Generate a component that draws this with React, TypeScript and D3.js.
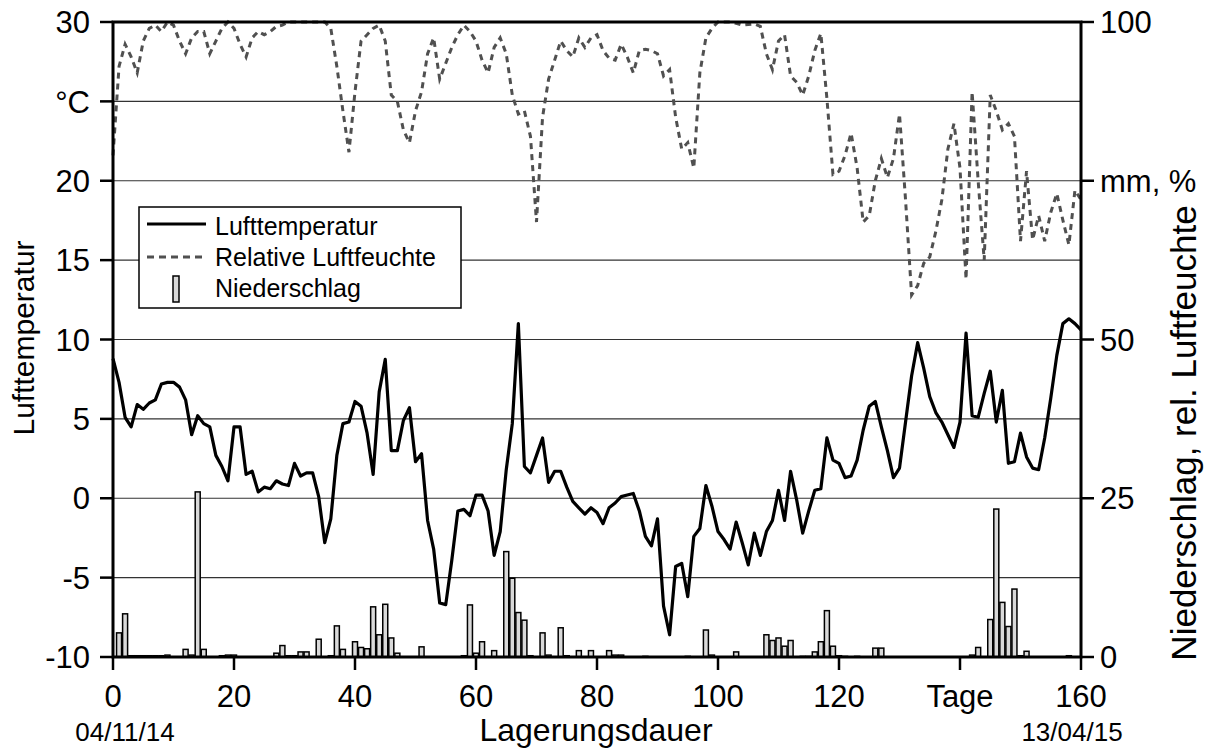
import React from "react";
import * as d3 from "d3";

const days: number[] = d3.range(0, 161);

const temperature: number[] = [
  8.8, 7.3, 5.1, 4.5, 5.9, 5.6, 6.0, 6.2, 7.2, 7.3,
  7.3, 7.0, 6.2, 4.0, 5.2, 4.7, 4.5, 2.7, 2.0, 1.1,
  4.5, 4.5, 1.5, 1.7, 0.4, 0.7, 0.6, 1.1, 0.9, 0.8,
  2.2, 1.4, 1.6, 1.6, 0.1, -2.8, -1.3, 2.7, 4.7, 4.8,
  6.1, 5.8, 4.1, 1.5, 6.7, 8.75, 3.0, 3.0, 4.9, 5.7,
  2.3, 2.8, -1.4, -3.2, -6.6, -6.7, -3.9, -0.8, -0.7, -1.1,
  0.2, 0.2, -0.8, -3.6, -2.1, 1.8, 4.7, 11.0, 2.0, 1.6,
  2.7, 3.8, 1.0, 1.7, 1.7, 0.7, -0.2, -0.6, -1.0, -0.6,
  -0.9, -1.6, -0.6, -0.3, 0.1, 0.2, 0.3, -0.8, -2.4, -3.0,
  -1.3, -6.8, -8.6, -4.3, -4.1, -6.2, -2.4, -1.9, 0.8, -0.5,
  -2.1, -2.6, -3.2, -1.5, -2.8, -4.2, -2.2, -3.6, -2.1, -1.4,
  0.5, -1.4, 1.7, -0.1, -2.2, -0.8, 0.5, 0.6, 3.8, 2.4,
  2.2, 1.3, 1.4, 2.4, 4.3, 5.8, 6.1, 4.5, 3.0, 1.3,
  1.9, 4.8, 7.7, 9.8, 8.2, 6.4, 5.4, 4.8, 4.0, 3.2,
  4.8, 10.4, 5.2, 5.1, 6.6, 8.0, 4.8, 6.8, 2.2, 2.3,
  4.1, 2.6, 1.9, 1.8, 3.8, 6.3, 9.0, 11.0, 11.3, 11.0,
  10.6,
];

const humidity: number[] = [
  79, 93, 96.5, 94.5, 92, 97, 99, 99.5, 98.5, 100,
  99.5, 97, 95, 97.5, 98.5, 98.5, 95, 97, 99, 100,
  99, 96.5, 94.5, 97.5, 98.5, 98, 98.5, 99.3, 99.5, 100,
  100, 100, 100, 100, 100, 100, 99, 93, 86, 79.5,
  89, 97, 98, 99, 99.5, 97, 88.5, 87.5, 83, 81,
  86, 89, 95, 97.5, 91, 93.5, 96, 98, 99.5, 98.5,
  97, 94, 92, 96, 97.5, 95, 88.5, 85.5, 86, 82,
  68.5, 85, 91, 94, 97, 95.5, 94.5, 97.5, 96, 97.5,
  98, 95.5, 94.3, 94, 96.5, 94.5, 92, 95.5, 95.7, 95.5,
  95, 91.5, 92.5, 85, 80, 81, 77, 92, 97.5, 99,
  100, 100, 100, 99.8, 99.5, 99.6, 99.7, 99.3, 95, 92.5,
  97, 98, 91.5, 90.5, 88.5, 91.5, 95.5, 98.2, 88, 76,
  76.5, 79, 82.5, 77, 68.5, 69.5, 75, 78.5, 75.5, 78.5,
  85.5, 72, 57, 58.5, 62, 63, 67, 72, 80, 84,
  77, 59.5, 89, 75, 62.5, 88.5, 86, 83, 84, 82,
  65.5, 76.5, 65.7, 69.5, 65.5, 70, 73, 68.8, 64.9, 73.5,
  72,
];

const precipitation: number[] = [
  0, 3.8, 6.8, 0.2, 0.2, 0.2, 0.2, 0.2, 0.2, 0.3,
  0, 0, 1.2, 0.3, 26.0, 1.2, 0, 0, 0.2, 0.3,
  0.3, 0, 0, 0, 0, 0, 0, 0.6, 1.8, 0.2,
  0.2, 0.8, 0.8, 0, 2.8, 0, 0.2, 4.9, 1.2, 0,
  2.4, 1.5, 1.3, 7.9, 3.5, 8.3, 3.0, 0.6, 0, 0,
  0, 1.6, 0, 0, 0, 0, 0, 0, 0.2, 8.2,
  0.6, 2.4, 0, 1.0, 0, 16.6, 12.4, 7.0, 5.8, 0.2,
  0, 3.8, 0.3, 0, 4.6, 0.2, 0, 1.0, 0, 1.0,
  0, 0, 1.0, 0.3, 0.3, 0, 0, 0, 0.1, 0,
  0, 0, 0, 0, 0, 0.1, 0, 0, 4.25, 0.3,
  0, 0, 0, 0.8, 0, 0, 0, 0, 3.5, 2.6,
  3.0, 1.7, 2.6, 0, 0.1, 0.1, 0.8, 2.4, 7.3, 1.7,
  0.2, 0.1, 0, 0.1, 0, 0, 1.4, 1.4, 0, 0,
  0, 0, 0, 0, 0, 0, 0, 0, 0, 0,
  0, 0, 0.3, 1.5, 0, 5.9, 23.3, 8.6, 4.8, 10.7,
  0.2, 0.9, 0, 0, 0, 0, 0, 0, 0.2, 0,
  0,
];

const leftTicks: number[] = [-10, -5, 0, 5, 10, 15, 20, 25, 30];
const leftTickLabels: string[] = ["-10", "-5", "0", "5", "10", "15", "20", "°C", "30"];
const rightTicks: number[] = [0, 25, 50, 75, 100];
const rightTickLabels: string[] = ["0", "25", "50", "mm, %", "100"];
const bottomTicks: number[] = [0, 20, 40, 60, 80, 100, 120, 140, 160];
const bottomTickLabels: string[] = ["0", "20", "40", "60", "80", "100", "120", "Tage", "160"];
const gridValues: number[] = [-5, 0, 5, 10, 15, 20, 25];

const legendLabels: string[] = ["Lufttemperatur", "Relative Luftfeuchte", "Niederschlag"];

const FONT = "'Liberation Sans', Arial, Helvetica, sans-serif";

export default function App() {
  const W = 1211;
  const H = 751;
  const L = 113, R = 1081, T = 22, B = 657;

  const x = d3.scaleLinear().domain([0, 160]).range([L, R]);
  const yT = d3.scaleLinear().domain([-10, 30]).range([B, T]);
  const yR = d3.scaleLinear().domain([0, 100]).range([B, T]);

  const tempLine = d3
    .line<number>()
    .x((_, i) => x(days[i]))
    .y((d) => yT(d))
    .curve(d3.curveLinear);
  const humLine = d3
    .line<number>()
    .x((_, i) => x(days[i]))
    .y((d) => yR(d))
    .curve(d3.curveLinear);

  const barW = 5;

  return (
    <svg
      width={W}
      height={H}
      viewBox={`0 0 ${W} ${H}`}
      style={{ position: "absolute", left: 0, top: 0, display: "block", background: "#fff" }}
      fontFamily={FONT}
    >
      <rect x={0} y={0} width={W} height={H} fill="#fff" />
      {gridValues.map((v) => (
        <line key={"g" + v} x1={L} x2={R} y1={yT(v)} y2={yT(v)} stroke="#333" strokeWidth={1.2} />
      ))}

      {precipitation.map((p, i) =>
        p > 0 ? (
          <rect
            key={"b" + i}
            x={x(days[i]) - barW / 2}
            y={yR(p)}
            width={barW}
            height={yR(0) - yR(p)}
            fill="#d9d9d9"
            stroke="#000"
            strokeWidth={1.5}
          />
        ) : null
      )}

      <path d={humLine(humidity) || ""} fill="none" stroke="#505050" strokeWidth={3} strokeDasharray="6 5" />
      <path d={tempLine(temperature) || ""} fill="none" stroke="#000" strokeWidth={3.2} strokeLinejoin="round" />

      <rect x={L} y={T} width={R - L} height={B - T} fill="none" stroke="#000" strokeWidth={3} />

      {leftTicks.map((v, i) => (
        <g key={"lt" + v}>
          <line x1={100} x2={L} y1={yT(v)} y2={yT(v)} stroke="#000" strokeWidth={2.5} />
          <text x={90} y={yT(v)} dy="0.36em" textAnchor="end" fontSize={31} fill="#000">
            {leftTickLabels[i]}
          </text>
        </g>
      ))}
      {rightTicks.map((v, i) => (
        <g key={"rt" + v}>
          <line x1={R} x2={R + 13} y1={yR(v)} y2={yR(v)} stroke="#000" strokeWidth={2.5} />
          <text x={1100} y={yR(v)} dy="0.36em" textAnchor="start" fontSize={31} fill="#000">
            {rightTickLabels[i]}
          </text>
        </g>
      ))}
      {bottomTicks.map((v, i) => (
        <g key={"bt" + v}>
          <line x1={x(v)} x2={x(v)} y1={B} y2={B + 13} stroke="#000" strokeWidth={2.5} />
          <text x={x(v)} y={707} textAnchor="middle" fontSize={31} fill="#000">
            {bottomTickLabels[i]}
          </text>
        </g>
      ))}

      <text transform="translate(34,338) rotate(-90)" textAnchor="middle" fontSize={30} fill="#000">
        Lufttemperatur
      </text>
      <text transform="translate(1196,433) rotate(-90)" textAnchor="middle" fontSize={35} fill="#000">
        Niederschlag, rel. Luftfeuchte
      </text>
      <text x={596} y={741} textAnchor="middle" fontSize={32} fill="#000">
        Lagerungsdauer
      </text>
      <text x={125} y={741} textAnchor="middle" fontSize={26} fill="#000">
        04/11/14
      </text>
      <text x={1072} y={741} textAnchor="middle" fontSize={26} fill="#000">
        13/04/15
      </text>

      <g>
        <rect x={139} y={207} width={322} height={101} fill="#fff" stroke="#000" strokeWidth={1.5} />
        <line x1={147} x2={206} y1={224} y2={224} stroke="#000" strokeWidth={3} />
        <line x1={147} x2={206} y1={257} y2={257} stroke="#505050" strokeWidth={3} strokeDasharray="7 5" />
        <rect x={173} y={276} width={6} height={26} fill="#d9d9d9" stroke="#000" strokeWidth={1.5} />
        {legendLabels.map((t, i) => (
          <text key={t} x={215} y={235 + i * 31} fontSize={25} fill="#000">
            {t}
          </text>
        ))}
      </g>
    </svg>
  );
}
